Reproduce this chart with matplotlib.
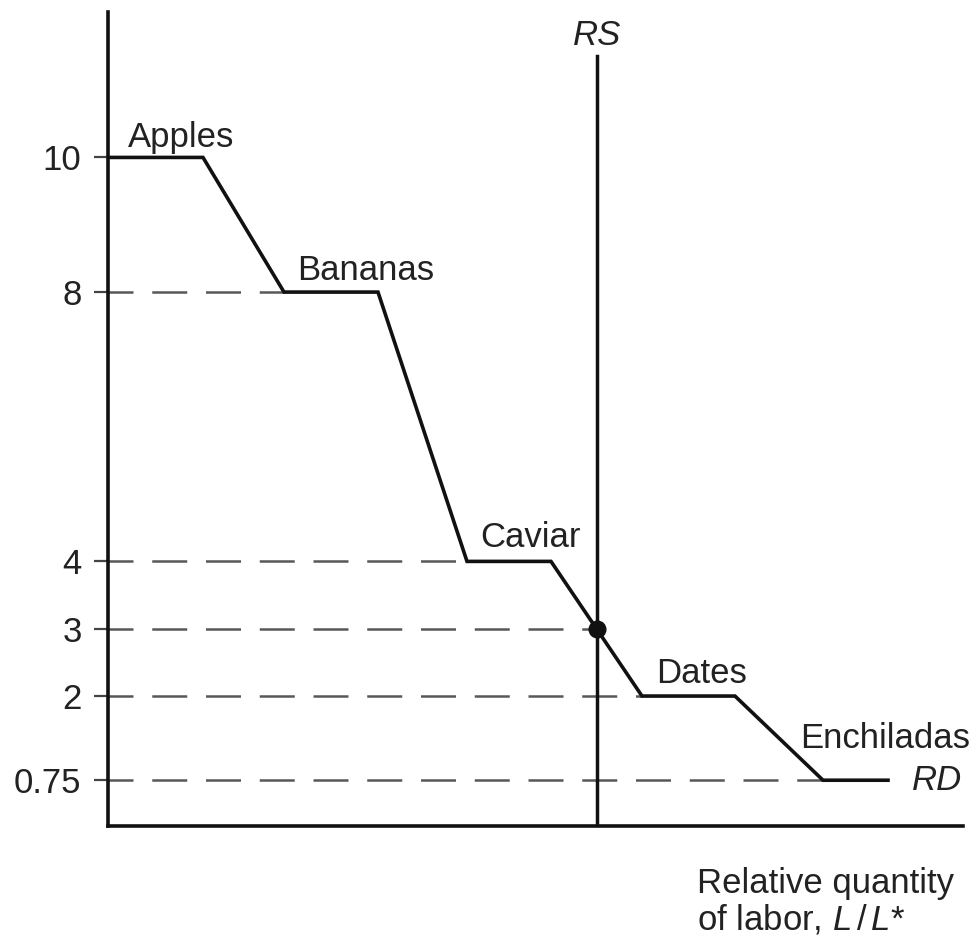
import matplotlib.pyplot as plt

# --- Datos de la curva RD (escalera) ---
rd_x = [0.0, 0.95, 1.76, 2.70, 3.59, 4.43, 5.34, 6.27, 7.15, 7.80]
rd_y = [10, 10, 8, 8, 4, 4, 2, 2, 0.75, 0.75]

goods = ['Apples', 'Bananas', 'Caviar', 'Dates', 'Enchiladas']
good_x = [0.20, 1.89, 3.72, 5.48, 6.92]
good_y = [10.16, 8.18, 4.21, 2.19, 1.23]

yticks = [0.75, 2, 3, 4, 8, 10]
ytick_labels = ['0.75', '2', '3', '4', '8', '10']

# líneas discontinuas: nivel y hasta dónde llegan
dash_y = [8, 4, 3, 2, 0.75]
dash_end = [1.76, 3.59, 4.89, 5.34, 7.15]

rs_x = 4.89
rs_top = 11.5
eq_y = 3

plt.rcParams['font.family'] = ['Liberation Sans', 'DejaVu Sans']
plt.rcParams['mathtext.fontset'] = 'custom'
plt.rcParams['mathtext.rm'] = 'Liberation Sans'
plt.rcParams['mathtext.it'] = 'Liberation Sans:italic'

fig = plt.figure(figsize=(9.77, 9.42), dpi=100)
ax = fig.add_axes([108 / 977, 116 / 942, 855 / 977, 814 / 942])
ax.set_xlim(0, 8.55)
ax.set_ylim(0.07, 12.16)

# líneas de referencia
for y, xe in zip(dash_y, dash_end):
    ax.plot([0, xe], [y, y], color='#585858', lw=1.8, linestyle=(4, (14, 7.5)),
            solid_capstyle='butt', zorder=1)

# curva RD
ax.plot(rd_x, rd_y, color='#111111', lw=2.6, solid_joinstyle='miter', zorder=3)

# curva RS
ax.plot([rs_x, rs_x], [0.07, rs_top], color='#111111', lw=2.5, zorder=3)
ax.plot([rs_x], [eq_y], 'o', color='#111111', markersize=12, zorder=4)

for g, x, y in zip(goods, good_x, good_y):
    ax.text(x, y, g, fontsize=25, color='#222222', va='baseline', ha='left')

ax.text(rs_x, 11.67, 'RS', fontsize=25, style='italic', color='#222222',
        ha='center', va='baseline')
ax.text(8.54, 0.60, 'RD', fontsize=25, style='italic', color='#222222',
        ha='right', va='baseline')

# ejes
for s in ['top', 'right']:
    ax.spines[s].set_visible(False)
for s in ['left', 'bottom']:
    ax.spines[s].set_linewidth(2.6)
    ax.spines[s].set_color('#111111')
ax.set_xticks([])
ax.set_yticks(yticks)
ax.set_yticklabels(ytick_labels, fontsize=25, color='#222222')
ax.tick_params(axis='y', length=10, width=1.6, pad=9, color='#444444')

fig.text(697 / 977, 1 - 893 / 942, 'Relative quantity', fontsize=25,
         color='#222222', ha='left', va='baseline')
fig.text(697 / 977, 1 - 930 / 942, r'of labor, $L\,/\,L$*', fontsize=25,
         color='#222222', ha='left', va='baseline')

fig.savefig('out.png', dpi=100)
